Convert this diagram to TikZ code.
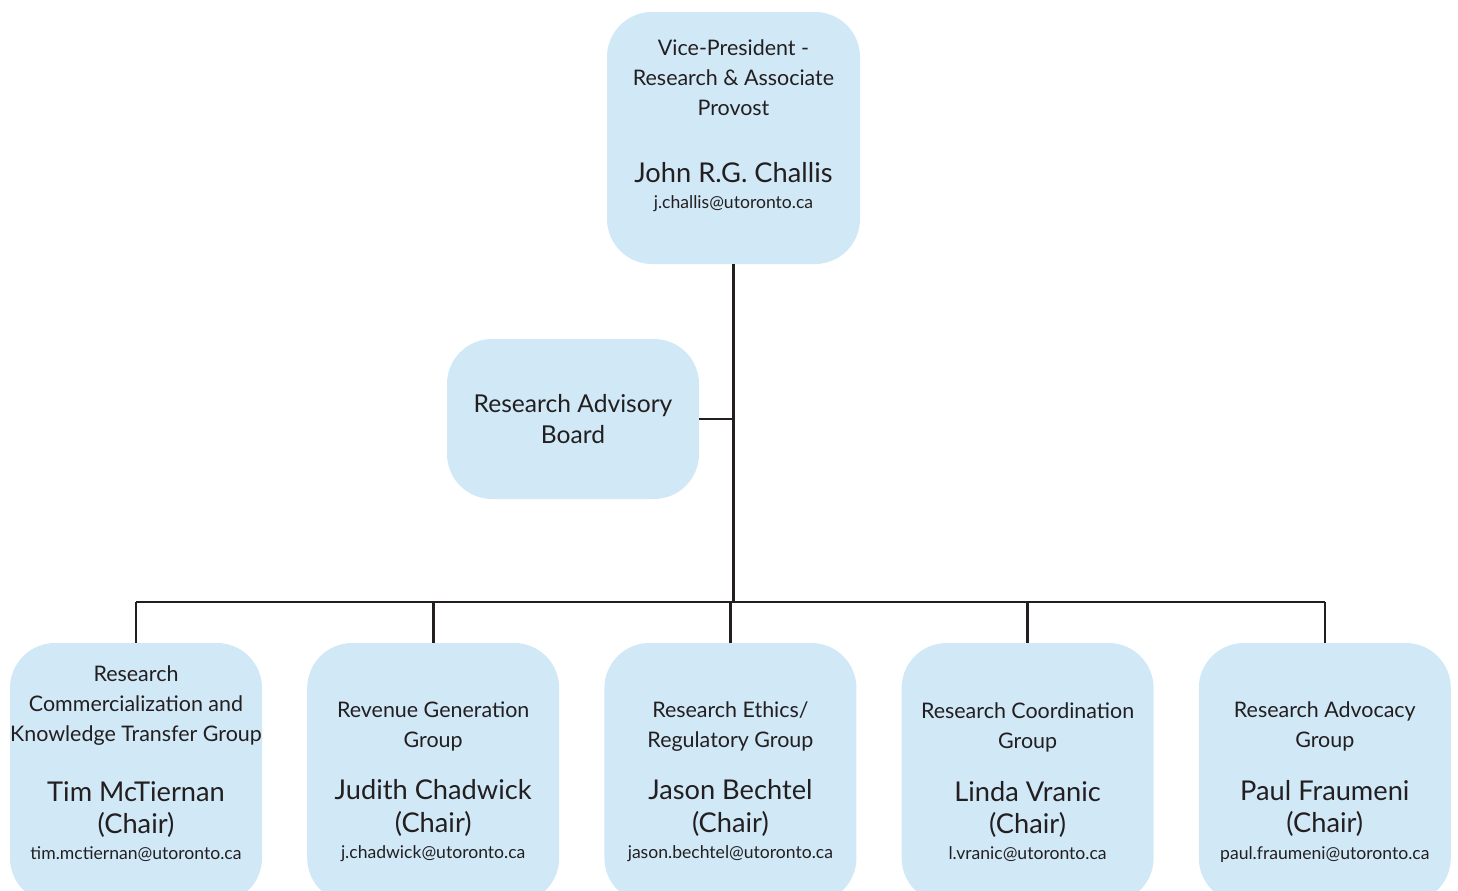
\documentclass[tikz,border=0pt]{standalone}
\usepackage{fontspec}
\setmainfont{Lato}
\usepackage{tikz}
\usetikzlibrary{
    calc,
    positioning
}
\definecolor{boxblue}{RGB}{209,232,247}
\definecolor{linegray}{RGB}{35,31,32}
\newcommand{\titlefont}{\fontsize{12.2}{17}\selectfont}
\newcommand{\namefont}{\fontsize{15.5}{18}\selectfont}
\newcommand{\mailfont}{\fontsize{10}{16.5}\selectfont}
\tikzset{
    % Box styles
    office box/.style={
        fill=boxblue,
        rectangle,
        rounded corners=0.9cm,
        minimum width=5.06cm,
        minimum height=5.04cm
    },
    board box/.style={
        fill=boxblue,
        rectangle,
        rounded corners=0.9cm,
        minimum width=5.04cm,
        minimum height=3.2cm,
        align=center,
        text=linegray,
        font=\fontsize{14}{18}\selectfont
    },
    group box/.style={
        fill=boxblue,
        rectangle,
        rounded corners=0.9cm,
        minimum width=5.04cm,
        minimum height=5.2cm
    },
    box text/.style={
        align=center,
        inner sep=0pt,
        text=linegray,
        font=\titlefont
    },
    % Line styles
    org line/.style={
        draw=linegray,
        line width=1.5pt
    }
}

\begin{document}
\begin{tikzpicture}[node distance=0.89cm]
    \useasboundingbox (0,0) rectangle (29.16,-17.8);
    % top
    \node[office box] (vp) at (14.67,-2.76) {};
    \node[box text] (vptext) at ([yshift=0.24cm]vp.center)
        {Vice-President -\\ Research \& Associate\\ Provost\\[21pt]
         {\namefont John R.G. Challis}\\[-2pt] {\mailfont j.challis@utoronto.ca}};
    \node[board box] (rab) at (11.46,-8.38) {Research Advisory\\ Board};
    % groups
    \node[group box] (rckt) at (2.72,-15.46) {};
    \node[group box, right=of rckt] (rgg) {};
    \node[group box, right=of rgg] (rerg) {};
    \node[group box, right=of rerg] (rcg) {};
    \node[group box, right=of rcg] (rag) {};
    \node[box text, above=0.82cm of rckt.south] (rcktext)
        {Research\\ Commercialization and\\ Knowledge Transfer Group\\[17pt]
         {\namefont Tim McTiernan}\\[1.5pt] {\namefont (Chair)}\\[-2pt] {\mailfont tim.mctiernan@utoronto.ca}};
    \node[box text, above=0.82cm of rgg.south] (rggtext)
        {Revenue Generation\\ Group\\[13pt]
         {\namefont Judith Chadwick}\\[1.5pt] {\namefont (Chair)}\\[-2pt] {\mailfont j.chadwick@utoronto.ca}};
    \node[box text, above=0.82cm of rerg.south] (rergtext)
        {Research Ethics/\\ Regulatory Group\\[13pt]
         {\namefont Jason Bechtel}\\[1.5pt] {\namefont (Chair)}\\[-2pt] {\mailfont jason.bechtel@utoronto.ca}};
    \node[box text, above=0.82cm of rcg.south] (rcgtext)
        {Research Coordination\\ Group\\[13pt]
         {\namefont Linda Vranic}\\[1.5pt] {\namefont (Chair)}\\[-2pt] {\mailfont l.vranic@utoronto.ca}};
    \node[box text, above=0.82cm of rag.south] (ragtext)
        {Research Advocacy\\ Group\\[13pt]
         {\namefont Paul Fraumeni}\\[1.5pt] {\namefont (Chair)}\\[-2pt] {\mailfont paul.fraumeni@utoronto.ca}};
    % lines
    \coordinate (hub) at (vp.south |- 0,-12.04);
    \draw[org line] (vp.south) -- (hub);
    \draw[org line] (rab.east) -- (rab.east -| vp.south);
    \draw[org line] (rckt.north |- hub) -- (rag.north |- hub);
    \foreach \g in {rckt,rgg,rerg,rcg,rag}
        \draw[org line] (\g.north) -- (\g.north |- hub);
\end{tikzpicture}
\end{document}
